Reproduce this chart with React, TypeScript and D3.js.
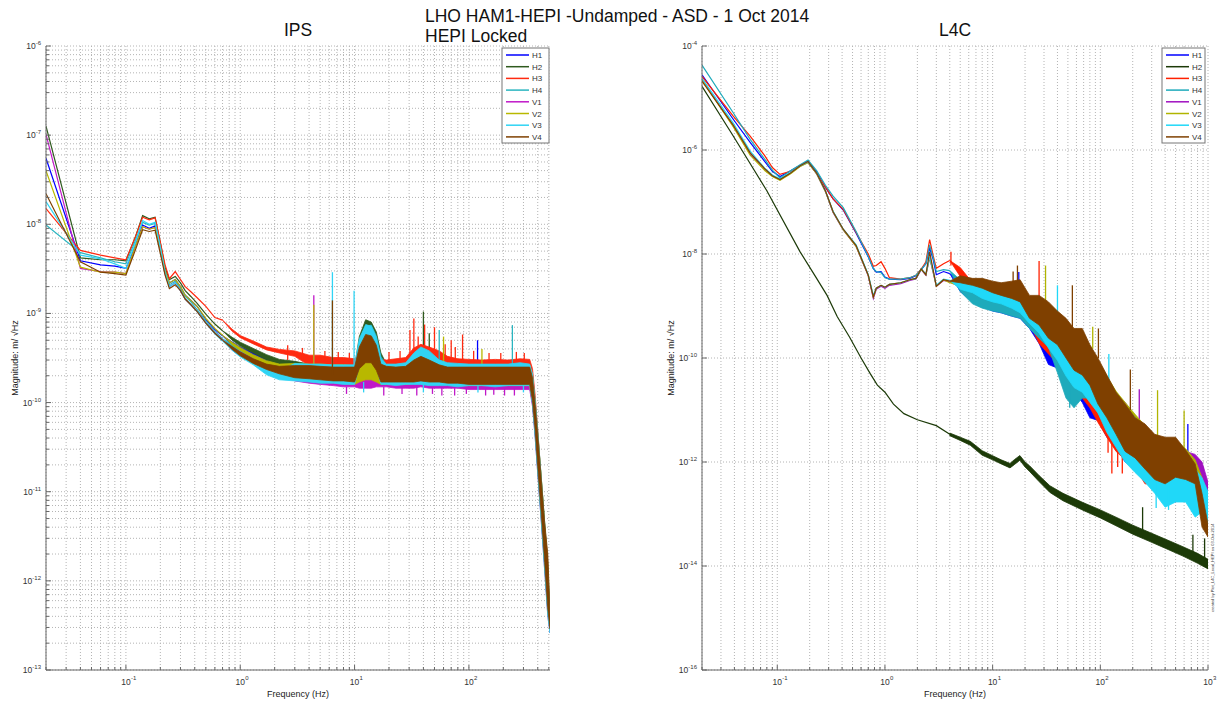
import React from "react";
import * as d3 from "d3";

// ---------------- data ----------------

const channels = ["H1", "H2", "H3", "H4", "V1", "V2", "V3", "V4"];
const ipsColors = ["#0000ff", "#2f5a1e", "#ff2a10", "#2ab5c0", "#c018c8", "#b8b800", "#30d4f4", "#7f4000"];
const l4cColors = ["#0000ff", "#1c3a08", "#ff2000", "#1eaabb", "#a010c0", "#b0b400", "#20d8f8", "#7f4000"];

// IPS, low-frequency clean part
const ipsFreq = [0.02, 0.04, 0.06, 0.08, 0.1, 0.12, 0.14, 0.16, 0.18, 0.2, 0.22, 0.24, 0.27, 0.3, 0.33, 0.37, 0.42, 0.5, 0.6, 0.7];
const ipsH1 = [5.5e-8, 3.9e-9, 3.5e-9, 3.4e-9, 3.2e-9, 5.6e-9, 9.8e-9, 9.0e-9, 9.6e-9, 5.6e-9, 3.0e-9, 2.2e-9, 2.4e-9, 2.0e-9, 1.6e-9, 1.4e-9, 1.2e-9, 8.6e-10, 6.6e-10, 5.6e-10];
const ipsH2 = [1.26e-7, 4.2e-9, 4.0e-9, 4.0e-9, 3.9e-9, 7.0e-9, 1.25e-8, 1.15e-8, 1.2e-8, 6.2e-9, 3.3e-9, 2.4e-9, 2.6e-9, 2.2e-9, 1.8e-9, 1.55e-9, 1.3e-9, 9.8e-10, 7.6e-10, 6.4e-10];
const ipsH3 = [1.5e-8, 5.1e-9, 4.5e-9, 4.2e-9, 4.0e-9, 7.0e-9, 1.2e-8, 1.12e-8, 1.18e-8, 6.3e-9, 3.5e-9, 2.45e-9, 2.95e-9, 2.4e-9, 2.0e-9, 1.75e-9, 1.5e-9, 1.2e-9, 9.0e-10, 8.4e-10];
const ipsH4 = [9.8e-9, 4.8e-9, 4.2e-9, 3.8e-9, 3.6e-9, 6.4e-9, 1.05e-8, 9.8e-9, 1.02e-8, 5.6e-9, 2.9e-9, 2.1e-9, 2.3e-9, 1.9e-9, 1.55e-9, 1.35e-9, 1.1e-9, 8.2e-10, 6.3e-10, 5.2e-10];
const ipsV1 = [1.02e-7, 3.2e-9, 2.95e-9, 2.9e-9, 2.8e-9, 5.4e-9, 9.4e-9, 8.8e-9, 9.2e-9, 5.2e-9, 2.8e-9, 2.0e-9, 2.2e-9, 1.8e-9, 1.45e-9, 1.25e-9, 1.05e-9, 7.8e-10, 6.0e-10, 5.0e-10];
const ipsV2 = [4.0e-8, 3.3e-9, 2.9e-9, 2.9e-9, 2.8e-9, 5.5e-9, 9.4e-9, 8.8e-9, 9.2e-9, 5.4e-9, 3.0e-9, 2.2e-9, 2.4e-9, 2.0e-9, 1.6e-9, 1.4e-9, 1.2e-9, 8.8e-10, 6.8e-10, 5.7e-10];
const ipsV3 = [1.8e-8, 4.5e-9, 4.1e-9, 3.6e-9, 3.2e-9, 6.0e-9, 1.1e-8, 1.0e-8, 1.05e-8, 5.5e-9, 2.9e-9, 2.0e-9, 2.2e-9, 1.8e-9, 1.45e-9, 1.25e-9, 1.05e-9, 7.8e-10, 5.9e-10, 4.9e-10];
const ipsV4 = [2.2e-8, 3.8e-9, 2.9e-9, 2.8e-9, 2.7e-9, 5.0e-9, 8.7e-9, 8.3e-9, 8.6e-9, 4.7e-9, 2.7e-9, 1.9e-9, 2.1e-9, 1.8e-9, 1.45e-9, 1.25e-9, 1.05e-9, 7.8e-10, 6.0e-10, 5.0e-10];

// IPS, noisy part: low / high envelope of each trace
const ipsBandFreq = [0.7, 0.85, 1, 1.3, 1.7, 2.2, 3, 4, 5, 6.5, 8, 10, 11, 12.5, 14, 15.5, 17, 19, 23, 28, 33, 38, 45, 55, 65, 80, 100, 130, 170, 220, 280, 340, 360, 380, 400, 430, 460, 490, 512];
const ipsH1Lo = [5.6e-10, 4.4e-10, 3.8e-10, 3.2e-10, 2.7e-10, 2.35e-10, 1.9e-10, 1.8e-10, 1.7e-10, 1.7e-10, 1.65e-10, 1.6e-10, 1.7e-10, 1.75e-10, 1.7e-10, 1.65e-10, 1.6e-10, 1.6e-10, 1.6e-10, 1.6e-10, 1.65e-10, 1.7e-10, 1.65e-10, 1.6e-10, 1.6e-10, 1.6e-10, 1.55e-10, 1.55e-10, 1.55e-10, 1.55e-10, 1.55e-10, 1.55e-10, 1.0e-10, 4.5e-11, 1.8e-11, 5.0e-12, 1.5e-12, 4.5e-13, 2.8e-13];
const ipsH1Hi = [5.6e-10, 4.8e-10, 4.2e-10, 3.65e-10, 3.15e-10, 2.85e-10, 2.8e-10, 2.6e-10, 2.6e-10, 2.5e-10, 2.5e-10, 2.4e-10, 2.9e-10, 3.2e-10, 3.0e-10, 2.7e-10, 2.5e-10, 2.4e-10, 2.4e-10, 2.6e-10, 3.1e-10, 3.5e-10, 3.3e-10, 2.9e-10, 2.6e-10, 2.5e-10, 2.4e-10, 2.4e-10, 2.4e-10, 2.4e-10, 2.4e-10, 2.4e-10, 1.8e-10, 9.0e-11, 4.0e-11, 1.1e-11, 3.2e-12, 9.0e-13, 3.5e-13];
const ipsH2Lo = [6.4e-10, 5.0e-10, 4.3e-10, 3.6e-10, 3.0e-10, 2.55e-10, 2.0e-10, 1.9e-10, 1.8e-10, 1.8e-10, 1.7e-10, 1.7e-10, 1.9e-10, 2.0e-10, 2.0e-10, 1.8e-10, 1.7e-10, 1.7e-10, 1.65e-10, 1.65e-10, 1.7e-10, 1.8e-10, 1.7e-10, 1.65e-10, 1.65e-10, 1.6e-10, 1.6e-10, 1.6e-10, 1.6e-10, 1.6e-10, 1.6e-10, 1.6e-10, 1.1e-10, 5.0e-11, 2.0e-11, 5.5e-12, 1.7e-12, 5.0e-13, 3.0e-13];
const ipsH2Hi = [6.4e-10, 5.4e-10, 4.75e-10, 4.05e-10, 3.45e-10, 3.05e-10, 2.9e-10, 2.7e-10, 2.7e-10, 2.6e-10, 2.6e-10, 2.5e-10, 5.5e-10, 8.5e-10, 8.0e-10, 6.2e-10, 3.6e-10, 2.7e-10, 2.6e-10, 2.9e-10, 3.6e-10, 4.4e-10, 3.8e-10, 3.1e-10, 2.8e-10, 2.7e-10, 2.6e-10, 2.6e-10, 2.6e-10, 2.6e-10, 2.6e-10, 2.6e-10, 2.0e-10, 1.0e-10, 4.5e-11, 1.4e-11, 4.5e-12, 1.6e-12, 4.5e-13];
const ipsH3Lo = [8.4e-10, 6.3e-10, 5.35e-10, 4.55e-10, 3.9e-10, 3.6e-10, 3.3e-10, 2.6e-10, 2.5e-10, 2.5e-10, 2.45e-10, 2.4e-10, 2.4e-10, 2.45e-10, 2.45e-10, 2.4e-10, 2.4e-10, 2.35e-10, 2.35e-10, 2.35e-10, 2.4e-10, 2.5e-10, 2.4e-10, 2.35e-10, 2.3e-10, 2.3e-10, 2.3e-10, 2.3e-10, 2.3e-10, 2.3e-10, 2.3e-10, 2.3e-10, 1.2e-10, 5.5e-11, 2.2e-11, 6.0e-12, 1.8e-12, 5.5e-13, 3.0e-13];
const ipsH3Hi = [8.4e-10, 6.65e-10, 5.65e-10, 4.9e-10, 4.2e-10, 3.95e-10, 3.8e-10, 3.4e-10, 3.4e-10, 3.2e-10, 3.2e-10, 3.1e-10, 3.3e-10, 3.5e-10, 3.3e-10, 3.1e-10, 3.05e-10, 3.0e-10, 3.1e-10, 3.2e-10, 4.1e-10, 4.5e-10, 4.2e-10, 3.8e-10, 3.3e-10, 3.1e-10, 3.05e-10, 3.0e-10, 3.05e-10, 3.0e-10, 3.1e-10, 3.05e-10, 2.4e-10, 1.2e-10, 5.0e-11, 1.3e-11, 3.8e-12, 1.1e-12, 4.0e-13];
const ipsH4Lo = [5.2e-10, 4.1e-10, 3.5e-10, 2.95e-10, 2.45e-10, 2.2e-10, 1.8e-10, 1.7e-10, 1.65e-10, 1.6e-10, 1.6e-10, 1.55e-10, 1.7e-10, 1.8e-10, 1.8e-10, 1.7e-10, 1.6e-10, 1.55e-10, 1.55e-10, 1.55e-10, 1.6e-10, 1.7e-10, 1.6e-10, 1.55e-10, 1.55e-10, 1.5e-10, 1.5e-10, 1.5e-10, 1.5e-10, 1.5e-10, 1.5e-10, 1.5e-10, 1.0e-10, 4.5e-11, 1.8e-11, 5.0e-12, 1.5e-12, 4.5e-13, 2.8e-13];
const ipsH4Hi = [5.2e-10, 4.5e-10, 3.9e-10, 3.3e-10, 2.8e-10, 2.65e-10, 2.7e-10, 2.6e-10, 2.6e-10, 2.5e-10, 2.5e-10, 2.4e-10, 5.0e-10, 7.2e-10, 7.4e-10, 5.6e-10, 3.3e-10, 2.6e-10, 2.5e-10, 2.7e-10, 3.5e-10, 3.9e-10, 3.5e-10, 3.0e-10, 2.7e-10, 2.6e-10, 2.5e-10, 2.5e-10, 2.5e-10, 2.5e-10, 2.6e-10, 2.5e-10, 1.9e-10, 9.5e-11, 4.2e-11, 1.2e-11, 3.6e-12, 1.0e-12, 3.8e-13];
const ipsV1Lo = [5.0e-10, 3.85e-10, 3.35e-10, 2.75e-10, 2.25e-10, 2.0e-10, 1.75e-10, 1.65e-10, 1.6e-10, 1.55e-10, 1.5e-10, 1.5e-10, 1.45e-10, 1.45e-10, 1.45e-10, 1.5e-10, 1.5e-10, 1.5e-10, 1.45e-10, 1.45e-10, 1.45e-10, 1.5e-10, 1.45e-10, 1.45e-10, 1.45e-10, 1.45e-10, 1.4e-10, 1.4e-10, 1.4e-10, 1.4e-10, 1.4e-10, 1.4e-10, 9.0e-11, 4.0e-11, 1.6e-11, 4.5e-12, 1.3e-12, 4.0e-13, 2.6e-13];
const ipsV1Hi = [5.0e-10, 4.15e-10, 3.7e-10, 3.1e-10, 2.6e-10, 2.45e-10, 2.5e-10, 2.4e-10, 2.4e-10, 2.3e-10, 2.3e-10, 2.2e-10, 2.3e-10, 2.5e-10, 2.5e-10, 2.3e-10, 2.2e-10, 2.2e-10, 2.2e-10, 2.3e-10, 2.7e-10, 2.9e-10, 2.7e-10, 2.4e-10, 2.3e-10, 2.2e-10, 2.2e-10, 2.2e-10, 2.2e-10, 2.2e-10, 2.2e-10, 2.2e-10, 1.6e-10, 8.0e-11, 3.5e-11, 1.0e-11, 3.0e-12, 8.5e-13, 3.3e-13];
const ipsV2Lo = [5.7e-10, 4.45e-10, 3.85e-10, 3.15e-10, 2.65e-10, 2.35e-10, 1.9e-10, 1.8e-10, 1.75e-10, 1.7e-10, 1.65e-10, 1.6e-10, 1.7e-10, 1.8e-10, 1.8e-10, 1.7e-10, 1.6e-10, 1.6e-10, 1.6e-10, 1.6e-10, 1.65e-10, 1.7e-10, 1.65e-10, 1.6e-10, 1.6e-10, 1.55e-10, 1.55e-10, 1.55e-10, 1.55e-10, 1.55e-10, 1.55e-10, 1.55e-10, 1.0e-10, 4.5e-11, 1.8e-11, 5.0e-12, 1.5e-12, 4.5e-13, 2.8e-13];
const ipsV2Hi = [5.7e-10, 4.75e-10, 4.15e-10, 3.45e-10, 2.95e-10, 2.7e-10, 2.75e-10, 2.7e-10, 2.7e-10, 2.65e-10, 2.65e-10, 2.6e-10, 3.0e-10, 3.2e-10, 3.1e-10, 2.8e-10, 2.65e-10, 2.6e-10, 2.6e-10, 2.65e-10, 3.4e-10, 3.8e-10, 3.4e-10, 2.9e-10, 2.7e-10, 2.65e-10, 2.65e-10, 2.65e-10, 2.65e-10, 2.65e-10, 2.7e-10, 2.65e-10, 2.0e-10, 1.0e-10, 4.6e-11, 1.4e-11, 4.2e-12, 1.3e-12, 4.2e-13];
const ipsV3Lo = [4.9e-10, 3.85e-10, 3.25e-10, 2.65e-10, 2.05e-10, 1.8e-10, 1.75e-10, 1.7e-10, 1.65e-10, 1.65e-10, 1.6e-10, 1.6e-10, 2.6e-10, 3.2e-10, 3.2e-10, 2.6e-10, 1.6e-10, 1.6e-10, 1.55e-10, 1.6e-10, 1.6e-10, 1.6e-10, 1.55e-10, 1.55e-10, 1.55e-10, 1.5e-10, 1.55e-10, 1.55e-10, 1.5e-10, 1.55e-10, 1.55e-10, 1.55e-10, 9.5e-11, 4.0e-11, 1.6e-11, 4.5e-12, 1.3e-12, 4.0e-13, 2.6e-13];
const ipsV3Hi = [4.9e-10, 4.15e-10, 3.6e-10, 3.0e-10, 2.4e-10, 2.25e-10, 2.75e-10, 2.7e-10, 2.7e-10, 2.65e-10, 2.65e-10, 2.65e-10, 5.2e-10, 7.5e-10, 7.2e-10, 5.4e-10, 3.1e-10, 2.7e-10, 2.7e-10, 2.8e-10, 3.6e-10, 4.2e-10, 3.8e-10, 3.0e-10, 2.8e-10, 2.75e-10, 2.7e-10, 2.7e-10, 2.7e-10, 2.7e-10, 2.8e-10, 2.7e-10, 2.1e-10, 1.05e-10, 4.8e-11, 1.4e-11, 4.3e-12, 1.3e-12, 4.2e-13];
const ipsV4Lo = [5.0e-10, 3.95e-10, 3.35e-10, 2.75e-10, 2.35e-10, 2.1e-10, 1.9e-10, 1.85e-10, 1.8e-10, 1.75e-10, 1.75e-10, 1.7e-10, 2.4e-10, 2.8e-10, 2.8e-10, 2.3e-10, 1.7e-10, 1.7e-10, 1.7e-10, 1.7e-10, 1.7e-10, 1.75e-10, 1.7e-10, 1.7e-10, 1.65e-10, 1.65e-10, 1.6e-10, 1.6e-10, 1.6e-10, 1.6e-10, 1.6e-10, 1.6e-10, 1.05e-10, 4.8e-11, 1.9e-11, 5.5e-12, 1.6e-12, 4.8e-13, 2.9e-13];
const ipsV4Hi = [5.0e-10, 4.25e-10, 3.7e-10, 3.1e-10, 2.7e-10, 2.55e-10, 2.6e-10, 2.6e-10, 2.55e-10, 2.5e-10, 2.5e-10, 2.5e-10, 4.2e-10, 5.8e-10, 5.6e-10, 4.4e-10, 2.7e-10, 2.55e-10, 2.5e-10, 2.55e-10, 3.0e-10, 3.3e-10, 3.0e-10, 2.65e-10, 2.5e-10, 2.5e-10, 2.5e-10, 2.5e-10, 2.5e-10, 2.5e-10, 2.5e-10, 2.5e-10, 1.9e-10, 9.5e-11, 4.4e-11, 1.35e-11, 4.5e-12, 2.0e-12, 4.2e-13];

// IPS line spikes: [channel index, frequency, from, to]
const ipsSpikes = [
  [4, 4.4, 2.0e-10, 1.6e-9], [5, 4.4, 2.0e-10, 1.25e-9], [6, 6.4, 2.0e-10, 2.9e-9], [7, 6.4, 2.0e-10, 1.4e-9],
  [6, 9.9, 2.0e-10, 1.8e-9], [2, 30.5, 2.5e-10, 6.5e-10], [2, 33, 2.5e-10, 8.8e-10], [1, 40, 2.5e-10, 1.05e-9],
  [2, 41, 2.5e-10, 7.5e-10], [1, 45, 2.5e-10, 6.0e-10], [2, 50, 2.5e-10, 7.0e-10], [3, 55, 2.5e-10, 6.5e-10],
  [5, 60, 2.5e-10, 5.5e-10], [2, 70, 2.5e-10, 5.0e-10], [2, 88, 2.5e-10, 5.8e-10], [0, 119, 2.5e-10, 5.0e-10],
  [5, 130, 2.5e-10, 4.0e-10], [3, 240, 2.5e-10, 7.4e-10],
  // small red excursions on top of the floor
  [2, 2.6, 3.0e-10, 4.4e-10], [2, 3.5, 3.0e-10, 4.1e-10], [2, 5.5, 2.8e-10, 3.8e-10], [2, 7.2, 2.8e-10, 3.7e-10],
  [2, 9, 2.8e-10, 3.6e-10], [2, 20, 2.8e-10, 3.7e-10], [2, 25, 2.8e-10, 3.8e-10], [2, 36, 3.0e-10, 5.5e-10],
  [2, 62, 3.0e-10, 4.5e-10], [2, 76, 2.8e-10, 4.2e-10], [2, 110, 2.8e-10, 3.8e-10], [2, 150, 2.8e-10, 3.6e-10],
  [2, 190, 2.8e-10, 3.6e-10], [2, 260, 2.8e-10, 3.7e-10], [2, 305, 2.8e-10, 3.6e-10],
  // magenta dips under the floor
  [4, 8.5, 1.5e-10, 1.25e-10], [4, 18, 1.5e-10, 1.2e-10], [4, 26, 1.5e-10, 1.25e-10], [4, 35, 1.5e-10, 1.2e-10],
  [4, 48, 1.5e-10, 1.25e-10], [4, 58, 1.5e-10, 1.2e-10], [4, 75, 1.45e-10, 1.2e-10], [4, 95, 1.45e-10, 1.25e-10],
  [4, 140, 1.45e-10, 1.2e-10], [4, 165, 1.45e-10, 1.22e-10], [4, 205, 1.45e-10, 1.2e-10], [4, 250, 1.45e-10, 1.2e-10],
  [6, 12, 1.7e-10, 1.3e-10], [6, 40, 1.6e-10, 1.3e-10], [6, 120, 1.55e-10, 1.3e-10], [6, 300, 1.55e-10, 1.3e-10],
];

// L4C, low-frequency clean part
const l4cFreq = [0.02, 0.039, 0.056, 0.077, 0.09, 0.106, 0.133, 0.163, 0.193, 0.232, 0.28, 0.33, 0.41, 0.54, 0.7, 0.78, 0.83, 0.92, 1.0, 1.1, 1.4, 1.7, 1.94, 2.17, 2.4, 2.6, 2.8, 3.0, 3.5, 4.0];
const l4cH1 = [2.8e-5, 3.9e-6, 1.4e-6, 5.9e-7, 3.9e-7, 3.1e-7, 4.0e-7, 5.1e-7, 6.1e-7, 3.8e-7, 1.9e-7, 1.15e-7, 7.0e-8, 2.5e-8, 8.8e-9, 5.2e-9, 4.5e-9, 4.6e-9, 3.6e-9, 3.3e-9, 3.2e-9, 3.4e-9, 3.8e-9, 5.0e-9, 6.5e-9, 1.3e-8, 8.0e-9, 4.0e-9, 4.6e-9, 4.2e-9];
const l4cH3 = [2.6e-5, 4.5e-6, 1.85e-6, 7.6e-7, 4.6e-7, 3.4e-7, 3.9e-7, 5.0e-7, 5.8e-7, 3.5e-7, 1.95e-7, 1.15e-7, 7.2e-8, 2.6e-8, 1.0e-8, 5.8e-9, 6.0e-9, 7.1e-9, 5.3e-9, 3.5e-9, 3.3e-9, 3.5e-9, 3.9e-9, 5.1e-9, 7.1e-9, 1.9e-8, 9.4e-9, 5.3e-9, 6.5e-9, 7.5e-9];
const l4cH4 = [4.3e-5, 5.2e-6, 1.6e-6, 6.5e-7, 4.1e-7, 2.9e-7, 4.0e-7, 5.2e-7, 6.4e-7, 4.0e-7, 2.1e-7, 1.3e-7, 7.8e-8, 2.7e-8, 9.0e-9, 5.2e-9, 4.6e-9, 4.4e-9, 3.5e-9, 3.3e-9, 3.3e-9, 3.5e-9, 3.9e-9, 5.0e-9, 6.5e-9, 1.5e-8, 8.5e-9, 4.6e-9, 5.0e-9, 4.8e-9];
const l4cV1 = [2.3e-5, 2.9e-6, 8.5e-7, 4.2e-7, 3.2e-7, 2.7e-7, 3.6e-7, 4.9e-7, 5.8e-7, 3.5e-7, 1.6e-7, 6.3e-8, 2.9e-8, 1.4e-8, 3.8e-9, 1.4e-9, 2.1e-9, 2.4e-9, 2.2e-9, 2.5e-9, 2.7e-9, 3.1e-9, 3.3e-9, 5.0e-9, 3.9e-9, 8.5e-9, 4.5e-9, 2.4e-9, 3.1e-9, 2.9e-9];
const l4cV2 = [2.2e-5, 2.8e-6, 8.0e-7, 4.0e-7, 3.1e-7, 2.6e-7, 3.5e-7, 4.8e-7, 5.7e-7, 3.5e-7, 1.6e-7, 6.4e-8, 2.9e-8, 1.4e-8, 3.9e-9, 1.5e-9, 2.2e-9, 2.5e-9, 2.3e-9, 2.6e-9, 2.8e-9, 3.2e-9, 3.4e-9, 5.1e-9, 4.0e-9, 8.7e-9, 4.6e-9, 2.4e-9, 3.2e-9, 2.8e-9];
const l4cV3 = [2.4e-5, 3.3e-6, 9.5e-7, 4.4e-7, 3.3e-7, 2.8e-7, 3.7e-7, 5.0e-7, 5.9e-7, 3.6e-7, 1.65e-7, 6.6e-8, 3.0e-8, 1.5e-8, 4.0e-9, 1.6e-9, 2.2e-9, 2.5e-9, 2.3e-9, 2.6e-9, 2.8e-9, 3.2e-9, 3.4e-9, 5.2e-9, 4.1e-9, 9.0e-9, 4.8e-9, 2.5e-9, 3.3e-9, 3.1e-9];
const l4cV4 = [2.1e-5, 3.0e-6, 8.8e-7, 4.3e-7, 3.2e-7, 2.7e-7, 3.6e-7, 5.0e-7, 6.0e-7, 3.6e-7, 1.65e-7, 6.5e-8, 3.0e-8, 1.45e-8, 3.9e-9, 1.5e-9, 2.2e-9, 2.5e-9, 2.3e-9, 2.6e-9, 2.8e-9, 3.2e-9, 3.4e-9, 5.2e-9, 4.0e-9, 1.1e-8, 5.0e-9, 2.4e-9, 3.2e-9, 3.0e-9];

// L4C H2 has its own shape (dead sensor, much lower)
const l4cH2Freq = [0.02, 0.039, 0.08, 0.163, 0.232, 0.29, 0.36, 0.47, 0.6, 0.73, 0.85, 1.0, 1.2, 1.5, 2, 3, 4];
const l4cH2 = [1.67e-5, 1.86e-6, 1.65e-7, 1.1e-8, 3.4e-9, 1.6e-9, 6.3e-10, 2.5e-10, 1.0e-10, 5.0e-11, 3.0e-11, 2.2e-11, 1.3e-11, 8.5e-12, 6.5e-12, 5.0e-12, 3.4e-12];
const l4cH2BandFreq = [4, 5, 6.2, 8, 10, 12, 14.5, 16, 17.9, 20, 22, 27, 34, 45, 69, 100, 143, 200, 289, 400, 585, 800, 1000];
const l4cH2Lo = [3.2e-12, 2.6e-12, 2.1e-12, 1.35e-12, 1.1e-12, 9.2e-13, 7.7e-13, 9.0e-13, 1.08e-12, 8.0e-13, 6.6e-13, 4.2e-13, 2.6e-13, 1.8e-13, 1.18e-13, 8.4e-14, 5.8e-14, 4.1e-14, 2.95e-14, 2.2e-14, 1.55e-14, 1.13e-14, 8.8e-15];
const l4cH2Hi = [3.6e-12, 3.0e-12, 2.5e-12, 1.65e-12, 1.32e-12, 1.1e-12, 9.4e-13, 1.12e-12, 1.33e-12, 1.0e-12, 8.5e-13, 5.5e-13, 3.5e-13, 2.5e-13, 1.66e-13, 1.2e-13, 8.5e-14, 6.1e-14, 4.4e-14, 3.3e-14, 2.35e-14, 1.75e-14, 1.35e-14];

// L4C, noisy part
const l4cBandFreq = [4, 5, 6.5, 8, 10, 12, 15, 18, 22, 27, 33, 40, 48, 57, 68, 80, 95, 115, 140, 170, 210, 260, 320, 400, 500, 620, 760, 880, 1000];
const l4cH1Lo = [4.2e-9, 1.9e-9, 1.2e-9, 9.8e-10, 8.0e-10, 7.4e-10, 6.4e-10, 5.8e-10, 3.7e-10, 1.9e-10, 7.5e-11, 6.4e-11, 3.3e-11, 2.2e-11, 1.4e-11, 7.1e-12, 6.3e-12, 3.0e-12, 1.9e-12, 1.0e-12, 7.9e-13, 4.6e-13, 3.3e-13, 2.7e-13, 2.2e-13, 2.2e-13, 1.8e-13, 1.1e-13, 5.6e-14];
const l4cH1Hi = [4.2e-9, 3.2e-9, 2.2e-9, 1.8e-9, 1.4e-9, 1.4e-9, 1.6e-9, 1.4e-9, 1.1e-9, 9.0e-10, 5.8e-10, 3.7e-10, 2.4e-10, 1.9e-10, 1.2e-10, 7.8e-11, 5.0e-11, 2.7e-11, 1.4e-11, 7.1e-12, 4.6e-12, 3.0e-12, 2.2e-12, 1.9e-12, 1.6e-12, 1.2e-12, 7.9e-13, 5.0e-13, 2.1e-13];
const l4cH3Lo = [7.5e-9, 3.7e-9, 1.6e-9, 1.4e-9, 1.1e-9, 9.0e-10, 7.4e-10, 7.4e-10, 4.6e-10, 1.9e-10, 1.2e-10, 7.8e-11, 4.1e-11, 2.2e-11, 1.7e-11, 1.1e-11, 5.8e-12, 3.0e-12, 1.6e-12, 1.1e-12, 7.9e-13, 3.8e-13, 3.8e-13, 3.3e-13, 2.7e-13, 2.2e-13, 1.8e-13, 8.7e-14, 5.6e-14];
const l4cH3Hi = [7.5e-9, 5.5e-9, 2.8e-9, 2.8e-9, 2.8e-9, 2.2e-9, 2.2e-9, 1.8e-9, 1.4e-9, 1.1e-9, 7.4e-10, 4.7e-10, 2.9e-10, 1.9e-10, 1.5e-10, 1.0e-10, 5.0e-11, 2.7e-11, 1.7e-11, 1.1e-11, 5.8e-12, 3.7e-12, 2.4e-12, 1.9e-12, 1.6e-12, 1.2e-12, 7.9e-13, 5.0e-13, 2.1e-13];
const l4cH4Lo = [4.8e-9, 1.9e-9, 1.1e-9, 9.1e-10, 8.0e-10, 7.4e-10, 6.4e-10, 5.8e-10, 3.7e-10, 2.4e-10, 1.6e-10, 5.2e-11, 1.7e-11, 1.1e-11, 1.7e-11, 1.7e-11, 8.8e-12, 4.6e-12, 2.4e-12, 1.2e-12, 7.9e-13, 5.1e-13, 3.3e-13, 2.7e-13, 2.2e-13, 1.8e-13, 1.4e-13, 8.7e-14, 4.5e-14];
const l4cH4Hi = [4.8e-9, 3.2e-9, 2.0e-9, 1.6e-9, 1.4e-9, 1.2e-9, 1.4e-9, 1.4e-9, 1.1e-9, 9.0e-10, 5.8e-10, 3.7e-10, 1.9e-10, 1.0e-10, 1.2e-10, 1.0e-10, 5.0e-11, 3.3e-11, 1.7e-11, 1.1e-11, 5.8e-12, 3.7e-12, 2.4e-12, 1.9e-12, 1.6e-12, 1.2e-12, 7.9e-13, 4.1e-13, 1.7e-13];
const l4cV1Lo = [2.9e-9, 2.3e-9, 2.0e-9, 1.8e-9, 1.4e-9, 1.3e-9, 1.1e-9, 9.1e-10, 5.4e-10, 3.7e-10, 1.9e-10, 1.2e-10, 7.0e-11, 4.1e-11, 3.3e-11, 2.2e-11, 1.1e-11, 5.8e-12, 3.0e-12, 1.5e-12, 1.0e-12, 6.3e-13, 4.1e-13, 2.1e-13, 1.7e-13, 3.3e-13, 4.1e-13, 2.5e-13, 1.1e-13];
const l4cV1Hi = [2.9e-9, 3.4e-9, 3.2e-9, 3.0e-9, 2.6e-9, 2.2e-9, 2.6e-9, 2.6e-9, 1.4e-9, 1.2e-9, 9.1e-10, 6.3e-10, 4.7e-10, 2.9e-10, 2.4e-10, 1.55e-10, 7.8e-11, 4.1e-11, 2.1e-11, 1.4e-11, 7.6e-12, 4.6e-12, 3.0e-12, 2.4e-12, 2.1e-12, 1.6e-12, 1.4e-12, 1.0e-12, 4.1e-13];
const l4cV2Lo = [2.8e-9, 2.4e-9, 2.0e-9, 1.8e-9, 1.4e-9, 1.3e-9, 1.1e-9, 9.1e-10, 5.8e-10, 3.7e-10, 2.2e-10, 1.4e-10, 8.0e-11, 4.9e-11, 3.8e-11, 2.5e-11, 1.4e-11, 6.6e-12, 3.3e-12, 1.8e-12, 1.1e-12, 7.3e-13, 4.8e-13, 3.3e-13, 3.3e-13, 3.6e-13, 3.0e-13, 1.1e-13, 5.6e-14];
const l4cV2Hi = [2.8e-9, 3.5e-9, 3.2e-9, 3.2e-9, 2.7e-9, 2.2e-9, 2.7e-9, 2.7e-9, 1.5e-9, 1.4e-9, 1.0e-9, 6.8e-10, 5.4e-10, 3.4e-10, 2.8e-10, 1.7e-10, 9.0e-11, 4.5e-11, 2.3e-11, 1.4e-11, 8.3e-12, 5.0e-12, 3.2e-12, 2.8e-12, 2.6e-12, 1.8e-12, 1.1e-12, 5.0e-13, 1.7e-13];
const l4cV3Lo = [3.1e-9, 2.1e-9, 1.8e-9, 1.4e-9, 1.2e-9, 1.1e-9, 9.1e-10, 7.4e-10, 4.6e-10, 3.0e-10, 1.55e-10, 9.0e-11, 4.5e-11, 2.7e-11, 2.2e-11, 1.4e-11, 8.8e-12, 3.7e-12, 1.9e-12, 1.0e-12, 6.3e-13, 4.1e-13, 2.5e-13, 1.35e-13, 1.7e-13, 1.7e-13, 8.7e-14, 1.1e-13, 5.6e-14];
const l4cV3Hi = [3.1e-9, 3.3e-9, 2.9e-9, 2.7e-9, 2.2e-9, 2.0e-9, 2.2e-9, 2.2e-9, 1.3e-9, 1.1e-9, 8.3e-10, 5.8e-10, 3.7e-10, 2.4e-10, 1.9e-10, 1.2e-10, 6.4e-11, 3.3e-11, 2.1e-11, 1.2e-11, 7.1e-12, 4.2e-12, 2.7e-12, 2.2e-12, 1.8e-12, 1.2e-12, 7.3e-13, 5.0e-13, 2.7e-13];
const l4cV4Lo = [3.0e-9, 2.8e-9, 2.5e-9, 2.2e-9, 1.8e-9, 1.6e-9, 1.4e-9, 1.2e-9, 5.8e-10, 4.3e-10, 2.4e-10, 1.8e-10, 1.0e-10, 5.8e-11, 4.7e-11, 3.0e-11, 1.3e-11, 7.1e-12, 3.4e-12, 1.6e-12, 1.2e-12, 7.3e-13, 4.6e-13, 3.8e-13, 5.1e-13, 4.6e-13, 3.8e-13, 5.6e-14, 3.6e-14];
const l4cV4Hi = [3.0e-9, 3.8e-9, 3.4e-9, 3.4e-9, 3.0e-9, 2.8e-9, 3.0e-9, 3.2e-9, 1.6e-9, 1.6e-9, 1.2e-9, 8.0e-10, 5.8e-10, 3.7e-10, 3.7e-10, 1.8e-10, 1.0e-10, 4.7e-11, 2.2e-11, 1.3e-11, 7.1e-12, 5.4e-12, 3.4e-12, 3.0e-12, 3.0e-12, 1.7e-12, 9.2e-13, 2.5e-13, 6.4e-14];

const l4cSpikes = [
  [0, 17.5, 1.4e-9, 4.5e-9], [1, 247, 3.9e-14, 1.35e-13], [1, 724, 1.8e-14, 4.0e-14], [1, 930, 1.3e-14, 3.4e-14],
  [2, 4.1, 6.0e-9, 1.1e-8], [2, 27, 1.0e-9, 7.3e-9], [4, 230, 6.0e-12, 2.5e-11], [5, 31, 1.0e-9, 6.0e-9],
  [5, 85, 1.5e-10, 4.0e-10], [5, 340, 3.0e-12, 2.4e-11], [5, 600, 1.5e-12, 9.8e-12], [0, 650, 1.2e-12, 5.4e-12],
  [6, 40, 5.0e-10, 2.5e-9], [6, 120, 3.0e-11, 1.2e-10], [7, 15.5, 2.8e-9, 4.6e-9], [7, 17, 3.0e-9, 6.0e-9],
  [7, 55, 3.5e-10, 2.5e-9], [7, 96, 1.0e-10, 3.7e-10], [7, 190, 1.0e-11, 6.0e-11],
  // downward dips of the horizontal sensors
  [0, 34, 3.0e-10, 8.0e-11], [0, 60, 5.0e-11, 1.5e-11], [0, 98, 2.0e-11, 6.0e-12], [3, 52, 4.0e-11, 1.1e-11],
  [2, 118, 5.0e-12, 1.5e-12], [2, 128, 4.0e-12, 6.0e-13], [2, 145, 3.0e-12, 8.0e-13], [2, 160, 2.5e-12, 6.0e-13],
  [6, 330, 6.0e-13, 1.3e-13], [6, 430, 5.0e-13, 1.2e-13], [4, 900, 3.0e-13, 8.0e-13],
];

// ---------------- drawing ----------------

const FONT = '"Liberation Sans", Arial, Helvetica, sans-serif';

type Trace = { freq: number[]; vals: number[]; bandFreq: number[]; lo: number[]; hi: number[] };

const ipsTraces: Trace[] = [
  { freq: ipsFreq, vals: ipsH1, bandFreq: ipsBandFreq, lo: ipsH1Lo, hi: ipsH1Hi },
  { freq: ipsFreq, vals: ipsH2, bandFreq: ipsBandFreq, lo: ipsH2Lo, hi: ipsH2Hi },
  { freq: ipsFreq, vals: ipsH3, bandFreq: ipsBandFreq, lo: ipsH3Lo, hi: ipsH3Hi },
  { freq: ipsFreq, vals: ipsH4, bandFreq: ipsBandFreq, lo: ipsH4Lo, hi: ipsH4Hi },
  { freq: ipsFreq, vals: ipsV1, bandFreq: ipsBandFreq, lo: ipsV1Lo, hi: ipsV1Hi },
  { freq: ipsFreq, vals: ipsV2, bandFreq: ipsBandFreq, lo: ipsV2Lo, hi: ipsV2Hi },
  { freq: ipsFreq, vals: ipsV3, bandFreq: ipsBandFreq, lo: ipsV3Lo, hi: ipsV3Hi },
  { freq: ipsFreq, vals: ipsV4, bandFreq: ipsBandFreq, lo: ipsV4Lo, hi: ipsV4Hi },
];

const l4cTraces: Trace[] = [
  { freq: l4cFreq, vals: l4cH1, bandFreq: l4cBandFreq, lo: l4cH1Lo, hi: l4cH1Hi },
  { freq: l4cH2Freq, vals: l4cH2, bandFreq: l4cH2BandFreq, lo: l4cH2Lo, hi: l4cH2Hi },
  { freq: l4cFreq, vals: l4cH3, bandFreq: l4cBandFreq, lo: l4cH3Lo, hi: l4cH3Hi },
  { freq: l4cFreq, vals: l4cH4, bandFreq: l4cBandFreq, lo: l4cH4Lo, hi: l4cH4Hi },
  { freq: l4cFreq, vals: l4cV1, bandFreq: l4cBandFreq, lo: l4cV1Lo, hi: l4cV1Hi },
  { freq: l4cFreq, vals: l4cV2, bandFreq: l4cBandFreq, lo: l4cV2Lo, hi: l4cV2Hi },
  { freq: l4cFreq, vals: l4cV3, bandFreq: l4cBandFreq, lo: l4cV3Lo, hi: l4cV3Hi },
  { freq: l4cFreq, vals: l4cV4, bandFreq: l4cBandFreq, lo: l4cV4Lo, hi: l4cV4Hi },
];

// all 1..9 x 10^k values inside a log domain (grid / minor ticks)
function logSteps(min: number, max: number) {
  const out: { v: number; major: boolean }[] = [];
  for (let k = Math.floor(Math.log10(min)); k <= Math.ceil(Math.log10(max)); k++) {
    for (let m = 1; m <= 9; m++) {
      const v = m * Math.pow(10, k);
      if (v >= min * 0.9999 && v <= max * 1.0001) out.push({ v, major: m === 1 });
    }
  }
  return out;
}

type PanelProps = {
  id: string;
  x0: number; x1: number; y0: number; y1: number;
  xDomain: [number, number];
  yDomain: [number, number];
  xLabelExps: number[];
  yLabelExps: number[];
  yMinor: boolean;
  traces: Trace[];
  colors: string[];
  spikes: number[][];
  title: string;
  legendX: number;
  legendW: number;
};

function Panel(p: PanelProps) {
  const xs = d3.scaleLog().domain(p.xDomain).range([p.x0, p.x1]);
  const ys = d3.scaleLog().domain(p.yDomain).range([p.y1, p.y0]);

  const xGrid = logSteps(p.xDomain[0], p.xDomain[1]);
  const yGrid = p.yMinor
    ? logSteps(p.yDomain[0], p.yDomain[1])
    : p.yLabelExps.map((e) => ({ v: Math.pow(10, e), major: true }));

  const line = d3.line<[number, number]>().x((d) => xs(d[0])).y((d) => ys(d[1]));
  const band = d3
    .area<[number, number, number]>()
    .x((d) => xs(d[0]))
    .y0((d) => ys(d[1]))
    .y1((d) => ys(d[2]));

  const cx = (p.x0 + p.x1) / 2;
  const cy = (p.y0 + p.y1) / 2;
  const legY = p.y0 + 2;
  const legH = 95;

  return (
    <g>
      <defs>
        <clipPath id={p.id}>
          <rect x={p.x0} y={p.y0} width={p.x1 - p.x0} height={p.y1 - p.y0} />
        </clipPath>
      </defs>

      {/* grid */}
      <g stroke="#b4b4b4" strokeWidth={1} strokeDasharray="1,2" fill="none">
        {xGrid.map((t, i) => (
          <line key={"gx" + i} x1={xs(t.v)} x2={xs(t.v)} y1={p.y0} y2={p.y1} />
        ))}
        {yGrid.map((t, i) => (
          <line key={"gy" + i} x1={p.x0} x2={p.x1} y1={ys(t.v)} y2={ys(t.v)} />
        ))}
      </g>

      {/* traces */}
      <g clipPath={`url(#${p.id})`}>
        {p.traces.map((tr, si) => {
          const pts = tr.freq.map((f, i) => [f, tr.vals[i]] as [number, number]);
          const bpts = tr.bandFreq.map((f, i) => [f, tr.lo[i], tr.hi[i]] as [number, number, number]);
          return (
            <g key={"tr" + si}>
              <path d={line(pts) || ""} fill="none" stroke={p.colors[si]} strokeWidth={1.2} />
              <path d={band(bpts) || ""} fill={p.colors[si]} stroke={p.colors[si]} strokeWidth={0.8} strokeLinejoin="round" />
              {p.spikes
                .filter((s) => s[0] === si)
                .map((s, k) => (
                  <line key={"sp" + k} x1={xs(s[1])} x2={xs(s[1])} y1={ys(s[2])} y2={ys(s[3])} stroke={p.colors[si]} strokeWidth={1.3} />
                ))}
            </g>
          );
        })}
      </g>

      {/* axes */}
      <g stroke="#666" strokeWidth={1}>
        <line x1={p.x0} x2={p.x0} y1={p.y0} y2={p.y1} />
        <line x1={p.x0} x2={p.x1} y1={p.y1} y2={p.y1} />
        {xGrid.map((t, i) => (
          <line key={"tx" + i} x1={xs(t.v)} x2={xs(t.v)} y1={p.y1} y2={p.y1 - (t.major ? 5 : 3)} />
        ))}
        {yGrid.map((t, i) => (
          <line key={"ty" + i} x1={p.x0} x2={p.x0 + (t.major ? 5 : 3)} y1={ys(t.v)} y2={ys(t.v)} />
        ))}
      </g>

      {/* tick labels */}
      <g fontFamily={FONT} fill="#333">
        {p.xLabelExps.map((e) => (
          <g key={"lx" + e}>
            <text x={xs(Math.pow(10, e))} y={p.y1 + 15} fontSize={8.5} textAnchor="middle">10</text>
            <text x={xs(Math.pow(10, e)) + 5} y={p.y1 + 10} fontSize={6}>{e < 0 ? "-" + Math.abs(e) : String(e)}</text>
          </g>
        ))}
        {p.yLabelExps.map((e) => (
          <text key={"ly" + e} x={p.x0 - 5} y={ys(Math.pow(10, e)) + 3} fontSize={8.5} textAnchor="end">
            10<tspan dy={-4} fontSize={6}>{"-" + Math.abs(e)}</tspan>
          </text>
        ))}
      </g>

      {/* axis titles */}
      <text x={cx} y={36} fontFamily={FONT} fontSize={17.5} textAnchor="middle" fill="#111">{p.title}</text>
      <text x={cx} y={697} fontFamily={FONT} fontSize={9} textAnchor="middle" fill="#222">Frequency (Hz)</text>
      <text
        transform={`translate(${p.x0 - 28},${cy}) rotate(-90)`}
        fontFamily={FONT}
        fontSize={9}
        textAnchor="middle"
        fill="#222"
      >
        Magnitude: m/ √Hz
      </text>

      {/* legend */}
      <g fontFamily={FONT} fontSize={8} fill="#333">
        <rect x={p.legendX} y={legY} width={p.legendW} height={legH} fill="#fff" stroke="#777" strokeWidth={1} />
        {channels.map((c, i) => {
          const yy = legY + 7 + i * 11.7;
          return (
            <g key={"lg" + c}>
              <line x1={p.legendX + 4} x2={p.legendX + 27} y1={yy} y2={yy} stroke={p.colors[i]} strokeWidth={1.5} />
              <text x={p.legendX + 30} y={yy + 3}>{c}</text>
            </g>
          );
        })}
      </g>
    </g>
  );
}

export default function App() {
  return (
    <svg
      width={1217}
      height={701}
      viewBox="0 0 1217 701"
      style={{ position: "absolute", left: 0, top: 0, background: "#fff" }}
    >
      <rect x={0} y={0} width={1217} height={701} fill="#fff" />
      <text x={425} y={22} fontFamily={FONT} fontSize={17.5} fill="#111">LHO HAM1-HEPI -Undamped - ASD - 1 Oct 2014</text>
      <text x={425} y={42} fontFamily={FONT} fontSize={17.5} fill="#111">HEPI Locked</text>

      <Panel
        id="clip-ips"
        x0={46} x1={550} y0={46} y1={670}
        xDomain={[0.02, 512]}
        yDomain={[1e-13, 1e-6]}
        xLabelExps={[-1, 0, 1, 2]}
        yLabelExps={[-6, -7, -8, -9, -10, -11, -12, -13]}
        yMinor={true}
        traces={ipsTraces}
        colors={ipsColors}
        spikes={ipsSpikes}
        title="IPS"
        legendX={502}
        legendW={47}
      />
      <Panel
        id="clip-l4c"
        x0={702} x1={1208} y0={46} y1={670}
        xDomain={[0.02, 1000]}
        yDomain={[1e-16, 1e-4]}
        xLabelExps={[-1, 0, 1, 2, 3]}
        yLabelExps={[-4, -6, -8, -10, -12, -14, -16]}
        yMinor={false}
        traces={l4cTraces}
        colors={l4cColors}
        spikes={l4cSpikes}
        title="L4C"
        legendX={1162}
        legendW={43}
      />
      <text
        transform="translate(1214,612) rotate(-90)"
        fontFamily={FONT}
        fontSize={4}
        fill="#333"
      >
        created by Plot_L4C_Local_HEPI on 03-Oct-2014
      </text>
    </svg>
  );
}
